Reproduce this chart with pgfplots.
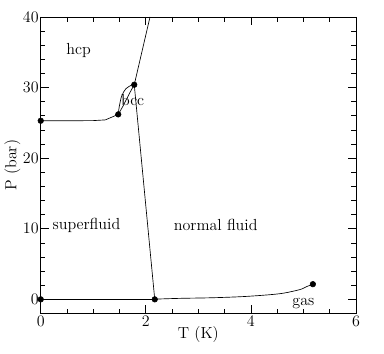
\documentclass[border=0pt]{standalone}
\usepackage{pgfplots}
\pgfplotsset{compat=1.18}

\begin{document}
\begin{tikzpicture}[font=\fontsize{12}{14}\selectfont]
\begin{axis}[
  scale only axis,
  width=236pt, height=222pt,
  xmin=0, xmax=6, ymin=-2, ymax=40,
  xtick={0,2,4,6}, ytick={0,10,20,30,40},
  minor x tick num=3, minor y tick num=4,
  tick align=inside,
  major tick length=6pt, minor tick length=3.5pt,
  every tick/.style={black, line width=0.5pt},
  axis line style={line width=0.6pt},
  xlabel={T (K)}, ylabel={P (bar)},
  xlabel style={yshift=7pt},
  ylabel style={yshift=-5pt},
  xticklabel style={yshift=2pt},
  yticklabel style={xshift=2pt},
  clip=false,
  /pgf/number format/assume math mode=true,
]
% melting curve (hcp - liquid) at low T
\addplot[black, line width=0.5pt] coordinates {
(0,25.3)(0.6,25.3)(1.0,25.32)(1.23,25.42)(1.475,26.2)
};
% hcp - bcc boundary
\addplot[black, line width=0.5pt, smooth] coordinates {
(1.475,26.2)(1.494,27.27)(1.54,28.79)(1.62,29.83)(1.73,30.35)(1.78,30.4)
};
% bcc - liquid boundary
\addplot[black, line width=0.5pt, smooth] coordinates {
(1.475,26.2)(1.56,27.3)(1.65,28.6)(1.72,29.6)(1.78,30.4)
};
% melting curve above bcc
\addplot[black, line width=0.5pt] coordinates {
(1.78,30.4)(2.08,40)
};
% lambda line
\addplot[black, line width=0.5pt] coordinates {
(1.78,30.4)(2.17,0)
};
% vapour pressure curve
\addplot[black, line width=0.5pt] coordinates {
(0,0)(2.17,0)
};
\addplot[black, line width=0.5pt, smooth] coordinates {
(2.17,0.03)(2.64,0.14)(3.28,0.23)(3.92,0.42)(4.55,0.8)(4.93,1.38)(5.06,1.8)(5.18,2.15)
};
% special points
\addplot[only marks, mark=*, mark size=2.1pt, black] coordinates {
(0,25.3)(1.475,26.2)(1.78,30.4)(0,0)(2.17,0)(5.18,2.15)
};
\node at (axis cs:0.72,35.3) {hcp};
\node at (axis cs:1.75,28.3) {bcc};
\node at (axis cs:0.87,10.5) {superfluid};
\node at (axis cs:3.33,10.5) {normal fluid};
\node at (axis cs:5.0,-0.65) {gas};
\coordinate (sw) at (rel axis cs:0,0);
\coordinate (ne) at (rel axis cs:1,1);
\end{axis}
\path ([xshift=-30.5pt,yshift=-30pt]sw) rectangle ([xshift=21pt,yshift=12.7pt]ne);
\end{tikzpicture}
\end{document}
